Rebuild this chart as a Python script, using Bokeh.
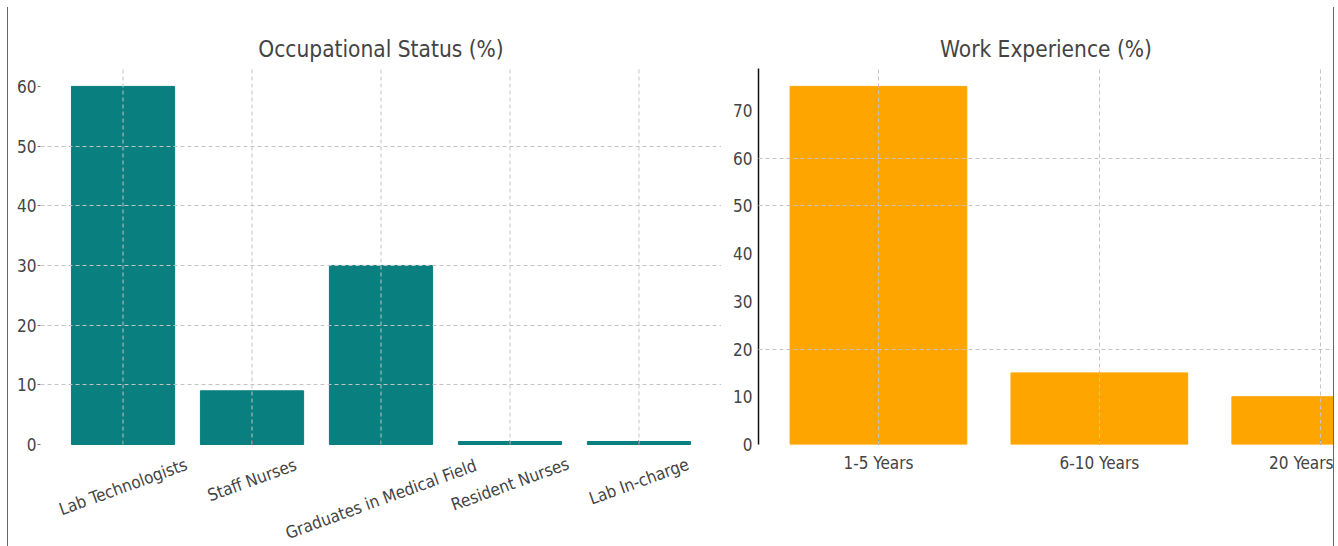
import math
from bokeh.plotting import figure
from bokeh.models import Range1d, FixedTicker, LabelSet, ColumnDataSource, Div
from bokeh.core.properties import value
from bokeh.layouts import row
from bokeh.embed import file_html
from bokeh.resources import INLINE

# ---- data ----
occ_categories = ["Lab Technologists", "Staff Nurses", "Graduates in Medical Field",
                  "Resident Nurses", "Lab In-charge"]
occ_values = [60, 9, 30, 0.5, 0.5]
occ_ticks = [0, 10, 20, 30, 40, 50, 60]
occ_grid = [10, 20, 30, 40, 50]

exp_categories = ["1-5 Years", "6-10 Years", "20 Years"]
exp_values = [75, 15, 10]
exp_ticks = [0, 10, 20, 30, 40, 50, 60, 70]
exp_grid = [20, 50, 60]

FONT = "DejaVu Sans Condensed, Liberation Sans Narrow, DejaVu Sans"
TEXT = "#444444"
TEAL = "#0a7f7f"
ORANGE = "#ffa500"
GRID = "#c4c4c4"
DASH = "4 3"

FRAME_TOP = 68
PLOT_H = 376          # height of the value area (0 .. top)
BOTTOM = 102          # space for category labels


def style(p, title_offset=0):
    p.title.text_font = FONT
    p.title.text_font_size = "22.5px"
    p.title.text_font_style = "normal"
    p.title.text_color = TEXT
    p.title.align = "center"
    p.title.offset = title_offset
    p.title.standoff = 14
    p.outline_line_color = None
    p.background_fill_color = "white"
    p.border_fill_color = "white"
    for ax in p.axis:
        ax.major_label_text_font = FONT
        ax.major_label_text_color = TEXT
        ax.minor_tick_line_color = None
    for g in p.grid:
        g.grid_line_color = GRID
        g.grid_line_dash = DASH
        g.grid_line_width = 1
        g.level = "overlay"


# ---- left: occupational status ----
occ_x = list(range(len(occ_categories)))
occ_top = 63
px_per_unit = PLOT_H / occ_top
occ_bottom = -BOTTOM / px_per_unit   # frame extends below 0 to hold the rotated labels
p1 = figure(frame_width=681, frame_height=PLOT_H + BOTTOM, min_border_left=32, min_border_right=0,
            min_border_top=FRAME_TOP, min_border_bottom=0,
            x_range=Range1d(-0.64, 4.64), y_range=Range1d(occ_bottom, occ_top),
            title="Occupational Status (%)",
            output_backend="svg", toolbar_location=None)
p1.vbar(x=occ_x, top=occ_values, width=0.8, fill_color=TEAL, line_color=TEAL)
style(p1)
p1.xgrid.visible = False
# vertical category grid lines, limited to the value area (0 .. top of range)
vg = p1.segment(x0=occ_x, y0=[0] * len(occ_x), x1=occ_x, y1=[occ_top] * len(occ_x),
                line_color=GRID, line_dash=DASH, line_width=1, level="overlay")
p1.xaxis.ticker = FixedTicker(ticks=occ_x)
p1.xaxis.fixed_location = 0
p1.xaxis.major_label_overrides = {i: "" for i in occ_x}
p1.xaxis.axis_line_color = None
p1.xaxis.major_tick_in = 4
p1.xaxis.major_tick_out = 0
p1.xaxis.major_tick_line_color = "#333333"
p1.yaxis.ticker = FixedTicker(ticks=occ_ticks)
p1.yaxis.axis_line_color = None
p1.yaxis.major_tick_out = 3
p1.yaxis.major_tick_in = 0
p1.yaxis.major_tick_line_color = "#777777"
p1.yaxis.major_label_standoff = 1
p1.yaxis.major_label_text_font_size = "17px"
p1.ygrid.ticker = FixedTicker(ticks=occ_grid)

ang = math.radians(20)
fs = 17
char_w = 8.0
yoff = [-(11 + (len(t) * char_w * math.sin(ang) + fs * math.cos(ang)) / 2) for t in occ_categories]
lab_src = ColumnDataSource(dict(x=occ_x, y=[0] * len(occ_x), text=occ_categories, yoff=yoff))
p1.add_layout(LabelSet(x="x", y="y", text="text", source=lab_src, y_offset="yoff",
                       angle=ang, text_align="center", text_baseline="middle",
                       text_font=value(FONT), text_font_size=value(f"{fs}px"),
                       text_color=TEXT))

# ---- right: work experience ----
exp_x = list(range(len(exp_categories)))
p2 = figure(frame_width=575, frame_height=PLOT_H, min_border_left=37, min_border_right=0,
            min_border_top=FRAME_TOP, min_border_bottom=BOTTOM,
            x_range=Range1d(-0.543, 2.06), y_range=Range1d(0, 78.75),
            title="Work Experience (%)",
            output_backend="svg", toolbar_location=None)
p2.vbar(x=exp_x, top=exp_values, width=0.8, fill_color=ORANGE, line_color=ORANGE)
style(p2, title_offset=54)
p2.xaxis.ticker = FixedTicker(ticks=exp_x)
p2.xaxis.major_label_overrides = {i: c for i, c in zip(exp_x, exp_categories)}
p2.xaxis.axis_line_color = None
p2.xaxis.major_tick_in = 4
p2.xaxis.major_tick_out = 0
p2.xaxis.major_tick_line_color = "#333333"
p2.xaxis.major_label_text_font_size = "17px"
p2.xaxis.major_label_standoff = 8
p2.yaxis.ticker = FixedTicker(ticks=exp_ticks)
p2.yaxis.axis_line_color = "#111111"
p2.yaxis.axis_line_width = 1.5
p2.yaxis.major_tick_out = 0
p2.yaxis.major_tick_in = 0
p2.yaxis.major_label_standoff = 6
p2.yaxis.major_label_text_font_size = "17px"
p2.ygrid.ticker = FixedTicker(ticks=exp_grid)

left_line = Div(text='<div style="width:8px;height:539px;margin-top:7px;box-sizing:border-box;'
                     'border-right:1.5px solid #666;"></div>', width=8, height=546, margin=0)
right_line = Div(text='<div style="width:5px;height:539px;margin-top:7px;box-sizing:border-box;'
                      'border-left:1.5px solid #666;"></div>', width=5, height=546, margin=0)

layout = row(left_line, p1, p2, right_line, spacing=0)
open("out.html", "w").write(file_html(layout, INLINE))
